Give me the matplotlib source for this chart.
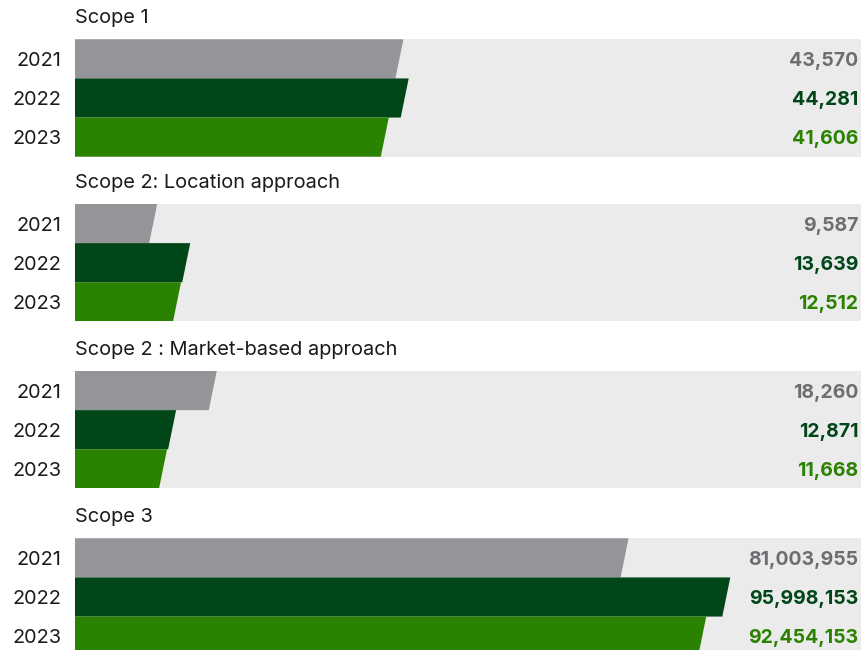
import matplotlib
matplotlib.use("Agg")
import matplotlib.pyplot as plt
from matplotlib.patches import Polygon

plt.rcParams['font.family'] = ['Inter', 'DejaVu Sans']

years = ['2021', '2022', '2023']
panel_titles = ['Scope 1', 'Scope 2: Location approach',
                'Scope 2 : Market-based approach', 'Scope 3']
scope1 = [43570, 44281, 41606]
scope2_location = [9587, 13639, 12512]
scope2_market = [18260, 12871, 11668]
scope3 = [81003955, 95998153, 92454153]
panel_values = [scope1, scope2_location, scope2_market, scope3]
# full width of the grey track in each panel
panel_xmax = [105700, 96500, 104300, 116000000]

bar_colors = ['#939598', '#004618', '#2a8200']
text_colors = ['#6d6e71', '#004618', '#2a8200']
track_color = '#ebebeb'

W, H = 862, 650
fig = plt.figure(figsize=(W / 100, H / 100), dpi=100)

left_px = 75
panel_tops = [39.3, 204.0, 371.0, 538.3]
panel_h = 117.4
slant_px = 8.0

for title, values, xmax, top in zip(panel_titles, panel_values, panel_xmax, panel_tops):
    ax = fig.add_axes([left_px / W, 1 - (top + panel_h) / H,
                       (W - left_px) / W, panel_h / H])
    ax.set_facecolor(track_color)
    ax.set_xlim(0, xmax)
    ax.set_ylim(2.5, -0.5)
    slant = slant_px / (W - left_px) * xmax
    for i, v in enumerate(values):
        verts = [(0, i - 0.5), (v + slant / 2, i - 0.5),
                 (v - slant / 2, i + 0.5), (0, i + 0.5)]
        ax.add_patch(Polygon(verts, closed=True, facecolor=bar_colors[i],
                             edgecolor='none'))
        ax.annotate(f"{v:,}", xy=(1, i), xycoords=ax.get_yaxis_transform(),
                    xytext=(-2.5, 0), textcoords='offset points',
                    ha='right', va='center_baseline', fontsize=14,
                    fontweight='bold', color=text_colors[i])
    ax.set_yticks(range(len(years)))
    ax.set_yticklabels(years, fontsize=14.3, color='#1a1a1a')
    ax.tick_params(axis='y', length=0, pad=10)
    ax.set_xticks([])
    for s in ax.spines.values():
        s.set_visible(False)
    ax.annotate(title, xy=(0, 1), xycoords='axes fraction',
                xytext=(0, 11.5), textcoords='offset points',
                ha='left', va='baseline', fontsize=14.4, color='#1a1a1a')

fig.savefig('out.png', dpi=100)
